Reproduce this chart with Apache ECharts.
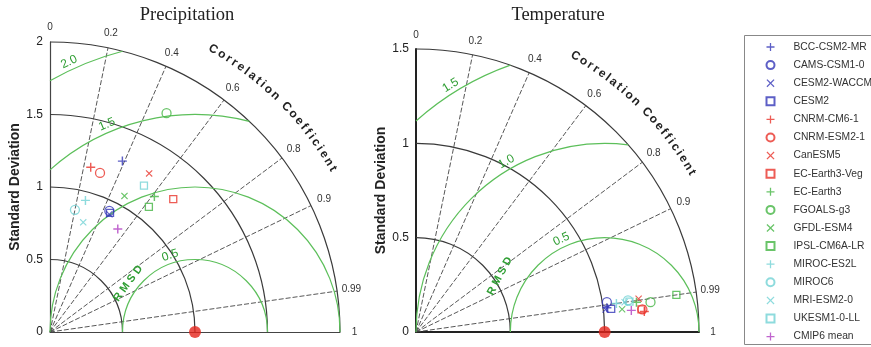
<!DOCTYPE html>
<html>
<head>
<meta charset="utf-8">
<script src="https://cdn.jsdelivr.net/npm/echarts@6/dist/echarts.min.js"></script>
<style>
  html, body { margin: 0; padding: 0; background: #fff; }
  #chart { width: 871px; height: 347px; }
</style>
</head>
<body>
<div id="chart"></div>
<script>
  // models, markers, colours
  var models = ['BCC-CSM2-MR', 'CAMS-CSM1-0', 'CESM2-WACCM', 'CESM2', 'CNRM-CM6-1', 'CNRM-ESM2-1',
    'CanESM5', 'EC-Earth3-Veg', 'EC-Earth3', 'FGOALS-g3', 'GFDL-ESM4', 'IPSL-CM6A-LR',
    'MIROC-ES2L', 'MIROC6', 'MRI-ESM2-0', 'UKESM1-0-LL', 'CMIP6 mean'];
  var markers = ['plus', 'circle', 'cross', 'square', 'plus', 'circle', 'cross', 'square',
    'plus', 'circle', 'cross', 'square', 'plus', 'circle', 'cross', 'square', 'plus'];
  var colors = ['#3437b8', '#3437b8', '#3437b8', '#3437b8', '#e8332b', '#e8332b', '#e8332b', '#e8332b',
    '#45b544', '#45b544', '#45b544', '#45b544', '#72d2d4', '#72d2d4', '#72d2d4', '#72d2d4', '#b03fc2'];

  // precipitation: normalised std and correlation
  var precipStd  = [1.28, 0.93, 0.91, 0.92, 1.17, 1.15, 1.29, 1.25, 1.18, 1.71, 1.07, 1.10, 0.94, 0.86, 0.79, 1.20, 0.85];
  var precipCorr = [0.39, 0.44, 0.45, 0.45, 0.24, 0.30, 0.53, 0.68, 0.61, 0.47, 0.48, 0.62, 0.26, 0.20, 0.29, 0.54, 0.55];
  // temperature
  var tempStd  = [1.020, 1.024, 1.012, 1.042, 1.215, 1.206, 1.193, 1.201, 1.179, 1.253, 1.099, 1.394, 1.073, 1.136, 1.117, 1.143, 1.147];
  var tempCorr = [0.992, 0.988, 0.993, 0.993, 0.996, 0.995, 0.989, 0.995, 0.991, 0.992, 0.994, 0.990, 0.990, 0.989, 0.990, 0.990, 0.995];

  var refStd = 1.0;
  var corrLines = [0.2, 0.4, 0.6, 0.8, 0.9, 0.99];
  var corrLabels = [0, 0.2, 0.4, 0.6, 0.8, 0.9, 0.99, 1];
  var precipStdArcs = [0.5, 1, 1.5, 2];
  var precipRmsArcs = [0.5, 1, 1.5, 2];
  var precipRmsLabels = ['2.0', '1.5', '0.5'];
  var tempStdArcs = [0.5, 1, 1.5];
  var tempRmsArcs = [0.5, 1, 1.5];
  var tempRmsLabels = ['1.5', '1.0', '0.5'];

  var panels = [
    { title: 'Precipitation', titleX: 187, max: 2, std: precipStd, corr: precipCorr,
      stdArcs: precipStdArcs, rmsArcs: precipRmsArcs, rmsLabels: precipRmsLabels, rmsAng: [115, 113, 108],
      rmsdAng: 144, rmsdR: 0.57, grid: { left: 50, top: 42, width: 290, height: 290 },
      axisW: 1.2, axisColor: '#444', nameGap: 28 },
    { title: 'Temperature', titleX: 558, max: 1.5, std: tempStd, corr: tempCorr,
      stdArcs: tempStdArcs, rmsArcs: tempRmsArcs, rmsLabels: tempRmsLabels, rmsAng: [122, 120, 115],
      rmsdAng: 152, rmsdR: 0.63, grid: { left: 416, top: 49, width: 283, height: 283 },
      axisW: 2, axisColor: '#222', nameGap: 24 }
  ];

  var PLUS = 'path://M0,4.2H10V5.8H0Z M4.2,0H5.8V10H4.2Z';
  var CROSS = 'path://M0,1.1L1.1,0L5,3.9L8.9,0L10,1.1L6.1,5L10,8.9L8.9,10L5,6.1L1.1,10L0,8.9L3.9,5Z';
  var SANS = '"Liberation Sans", Arial, sans-serif';
  var GREEN_LINE = '#5cbf5a';
  var GREEN_TEXT = '#2f9e33';

  var measureCtx = document.createElement('canvas').getContext('2d');

  // text bent along an arc around (cx, cy), angles in degrees
  function arcText(txt, font, rPx, a0, a1, cx, cy, color) {
    measureCtx.font = font;
    var centers = [], s = 0, gap = 3;
    for (var i = 0; i < txt.length; i++) {
      var cw = measureCtx.measureText(txt[i]).width;
      centers.push(s + cw / 2);
      s += cw + gap;
    }
    var span = centers[centers.length - 1] - centers[0];
    var out = [];
    for (i = 0; i < txt.length; i++) {
      if (txt[i] === ' ') continue;
      var t = (centers[i] - centers[0]) / span;
      var phi = (a0 + (a1 - a0) * t) * Math.PI / 180;
      out.push({
        type: 'text', x: cx + rPx * Math.cos(phi), y: cy - rPx * Math.sin(phi),
        rotation: phi - Math.PI / 2,
        style: { text: txt[i], font: font, fill: color, align: 'center', verticalAlign: 'middle' }
      });
    }
    return out;
  }

  var grids = [], xAxes = [], yAxes = [], series = [], graphics = [];

  panels.forEach(function (p, k) {
    var M = p.max;
    grids.push(p.grid);
    xAxes.push({
      gridIndex: k, type: 'value', min: 0, max: M,
      axisLine: { show: true, lineStyle: { color: p.axisColor, width: p.axisW } },
      axisTick: { show: false }, axisLabel: { show: false }, splitLine: { show: false }
    });
    yAxes.push({
      gridIndex: k, type: 'value', min: 0, max: M, interval: 0.5,
      axisLine: { show: true, lineStyle: { color: p.axisColor, width: p.axisW } },
      axisTick: { show: false }, splitLine: { show: false },
      axisLabel: { color: '#222', fontSize: 12, fontFamily: SANS, margin: 7 },
      name: 'Standard Deviation', nameLocation: 'middle', nameGap: p.nameGap,
      nameTextStyle: { color: '#222', fontSize: 14, fontWeight: 'bold', fontFamily: SANS }
    });

    graphics.push({
      type: 'text', x: p.titleX, y: 15,
      style: { text: p.title, font: '18.5px "Liberation Serif", "Times New Roman", serif', fill: '#222',
        align: 'center', verticalAlign: 'middle' }
    });

    // std arcs around the origin
    series.push({
      type: 'custom', xAxisIndex: k, yAxisIndex: k, silent: true, z: 1,
      data: p.stdArcs.map(function (v) { return [v]; }),
      renderItem: function (params, api) {
        var r = api.value(0), o = api.coord([0, 0]);
        var rp = api.coord([r, 0])[0] - o[0];
        return { type: 'arc', shape: { cx: o[0], cy: o[1], r: rp, startAngle: -Math.PI / 2, endAngle: 0, clockwise: true },
          style: { fill: 'none', stroke: '#3a3a3a', lineWidth: 1.2 } };
      }
    });

    // correlation rays
    series.push({
      type: 'custom', xAxisIndex: k, yAxisIndex: k, silent: true, z: 1,
      data: corrLines.map(function (v) { return [v]; }),
      renderItem: function (params, api) {
        var c = api.value(0), o = api.coord([0, 0]);
        var e = api.coord([M * c, M * Math.sqrt(1 - c * c)]);
        return { type: 'line', shape: { x1: o[0], y1: o[1], x2: e[0], y2: e[1] },
          style: { stroke: '#444', lineWidth: 0.9, lineDash: [5, 2] } };
      }
    });

    // RMSD arcs around the reference point, clipped by axes and outer arc
    series.push({
      type: 'custom', xAxisIndex: k, yAxisIndex: k, silent: true, z: 2,
      data: p.rmsArcs.map(function (v) { return [v]; }),
      renderItem: function (params, api) {
        var R = api.value(0), a = refStd;
        var c = api.coord([a, 0]);
        var rp = api.coord([a + R, 0])[0] - c[0];
        var phiL, phiR;
        if (R <= a) phiL = Math.PI;
        else phiL = Math.atan2(Math.sqrt(R * R - a * a), -a);
        if (a + R <= M) phiR = 0;
        else {
          var xr = (M * M - R * R + a * a) / (2 * a);
          phiR = Math.atan2(Math.sqrt(M * M - xr * xr), xr - a);
        }
        return { type: 'arc', shape: { cx: c[0], cy: c[1], r: rp, startAngle: -phiL, endAngle: -phiR, clockwise: true },
          style: { fill: 'none', stroke: GREEN_LINE, lineWidth: 1.2 } };
      }
    });

    // labels: correlation ticks, curved axis title, RMSD labels
    series.push({
      type: 'custom', xAxisIndex: k, yAxisIndex: k, silent: true, z: 3,
      data: [[0]],
      renderItem: function (params, api) {
        var o = api.coord([0, 0]);
        var unit = api.coord([1, 0])[0] - o[0];
        var kids = [];
        corrLabels.forEach(function (c) {
          var pt = api.coord([1.05 * M * c, 1.05 * M * Math.sqrt(1 - c * c)]);
          kids.push({ type: 'text', x: pt[0], y: pt[1],
            style: { text: String(c), font: '10px ' + SANS, fill: '#333', align: 'center', verticalAlign: 'middle' } });
        });
        kids = kids.concat(arcText('Correlation Coefficient', 'bold 12px ' + SANS, 1.126 * M * unit, 60, 30, o[0], o[1], '#222'));
        var ref = api.coord([refStd, 0]);
        p.rmsLabels.forEach(function (lab, i) {
          var phi = p.rmsAng[i] * Math.PI / 180;
          var r = parseFloat(lab) * unit + 8;
          kids.push({ type: 'text', x: ref[0] + r * Math.cos(phi), y: ref[1] - r * Math.sin(phi),
            rotation: phi - Math.PI / 2,
            style: { text: lab, font: '12px ' + SANS, fill: GREEN_TEXT, align: 'center', verticalAlign: 'middle' } });
        });
        var phd = p.rmsdAng * Math.PI / 180, rr = p.rmsdR * unit;
        kids.push({ type: 'text', x: ref[0] + rr * Math.cos(phd), y: ref[1] - rr * Math.sin(phd),
          rotation: phd - Math.PI / 2,
          style: { text: 'R M S D', font: 'bold 11px ' + SANS, fill: GREEN_TEXT, align: 'center', verticalAlign: 'middle' } });
        return { type: 'group', children: kids };
      }
    });

    // models
    models.forEach(function (name, i) {
      var m = markers[i], s = p.std[i], c = p.corr[i];
      var hollow = (m === 'circle' || m === 'square');
      series.push({
        type: 'scatter', name: name, xAxisIndex: k, yAxisIndex: k, z: 5, clip: false,
        symbol: m === 'circle' ? 'circle' : (m === 'square' ? 'rect' : (m === 'cross' ? CROSS : PLUS)),
        symbolSize: m === 'square' ? 7 : (m === 'cross' ? 7 : 9),
        itemStyle: hollow ? { color: 'none', borderColor: colors[i], borderWidth: 1.3 } : { color: colors[i] },
        emphasis: { disabled: true },
        data: [[s * c, s * Math.sqrt(1 - c * c)]]
      });
    });

    // reference (observation)
    series.push({
      type: 'scatter', name: 'ref', xAxisIndex: k, yAxisIndex: k, z: 6, clip: false,
      symbol: 'circle', symbolSize: 12, itemStyle: { color: '#e5241c' },
      data: [[refStd, 0]]
    });
  });

  graphics.push({
    type: 'rect', shape: { x: 744.5, y: 35.5, width: 150, height: 309 },
    style: { fill: 'none', stroke: '#888', lineWidth: 1 }
  });

  var chart = echarts.init(document.getElementById('chart'));
  chart.setOption({
    animation: false,
    backgroundColor: '#fff',
    grid: grids,
    xAxis: xAxes,
    yAxis: yAxes,
    legend: {
      data: models, orient: 'vertical', left: 764, top: 41, padding: 0,
      itemWidth: 8, itemHeight: 8, itemGap: 5.6, selectedMode: false,
      textStyle: { fontSize: 10.3, color: '#333', fontFamily: SANS, lineHeight: 12, padding: [0, 0, 0, 14] }
    },
    graphic: graphics,
    series: series
  });
</script>
</body>
</html>
